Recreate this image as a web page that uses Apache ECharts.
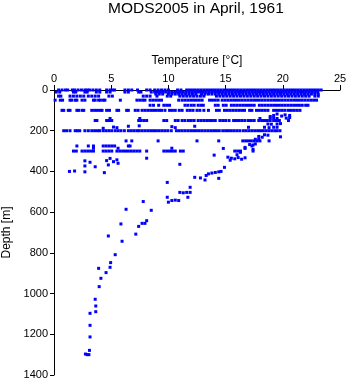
<!DOCTYPE html>
<html>
<head>
<meta charset="utf-8">
<script src="https://cdn.jsdelivr.net/npm/echarts@6/dist/echarts.min.js"></script>
<style>
  html, body { margin: 0; padding: 0; background: #fff; }
  #chart { width: 348px; height: 384px; }
</style>
</head>
<body>
<div id="chart"></div>
<script>
// Temperature profiles, MODS2005 casts for April 1961.
// Standard-depth observations: temperatures (°C) found at each depth (m).
const tempAt0 = [0.4,0.7,1.0,1.2,1.6,1.8,2.1,2.4,2.7,2.9,3.1,3.4,3.7,4.0,4.6,4.9,5.1,5.3,6.2,6.5,6.8,7.3,8.1,8.4,8.8,9.1,9.4,9.7,10.0,10.8,11.1,11.6,11.85,12.1,12.35,12.6,12.85,13.1,13.35,13.6,13.85,14.1,14.35,14.6,14.85,15.1,15.35,15.6,15.85,16.1,16.35,16.6,16.85,17.1,17.35,17.6,17.85,18.1,18.35,18.6,18.85,19.1,19.35,19.6,19.85,20.1,20.35,20.6,20.85,21.1,21.35,21.6,21.85,22.1,22.35,22.6,22.85,23.1,23.35];
const tempAt10 = [0.2,0.5,1.7,1.9,2.7,2.9,3.7,4.0,4.6,4.9,6.2,6.5,7.4,7.6,8.5,8.8,9.05,9.3,9.55,9.8,10.05,10.3,10.55,10.8,11.05,11.3,11.55,11.8,12.05,12.3,12.55,12.8,13.05,13.3,13.55,13.8,14.05,14.3,14.55,14.8,15.05,15.3,15.55,15.8,16.05,16.3,16.55,16.8,17.05,17.3,17.55,17.8,18.05,18.3,18.55,18.8,19.05,19.3,19.55,19.8,20.05,20.3,20.55,20.8,21.05,21.3,21.55,21.8,22.05,22.3,22.55,22.8,23.05];
const tempAt20 = [8.9,9.2,9.5,10.0,10.3,10.6,10.9,11.2,11.5,11.8,12.1,12.4,12.9,13.2,13.5,13.8,14.1,14.4,14.7,15.0,15.3,15.6,15.9,16.2,16.5,16.8,17.1,17.4,17.7,18.0,18.3,18.6,18.9,19.2,19.5,19.8,20.1,20.4,20.7,21.0,21.3,21.6,21.9,22.2,22.5,22.8,23.1];
const tempAt30 = [0.4,0.6,1.4,1.7,2.0,2.3,2.6,3.0,3.3,3.6,3.9,4.8,5.1,7.8,8.1,8.4,9.0,9.9,10.2,11.0,11.3,11.6,11.9,12.2,12.5,12.8,13.1,14.2,14.5,14.8,15.1,15.4,15.7,16.0,16.3,16.6,16.9,17.2,17.5,17.8,18.1,18.4,18.7,19.0,19.3,19.6,19.9,20.2,20.5,20.8,21.1,21.4,21.7,22.0,22.3,22.8,23.1];
const tempAt50 = [0.1,0.55,0.75,1.4,1.55,1.85,2.0,2.45,2.7,3.45,3.6,3.9,4.05,4.3,4.45,5.8,7.25,7.5,7.75,7.95,8.4,8.65,8.9,9.15,9.4,10.9,11.2,11.45,11.7,11.95,12.2,12.45,12.7,12.95,13.6,13.85,14.1,14.35,14.7,14.95,15.2,15.45,15.7,15.95,16.2,16.45,16.7,16.95,17.2,17.45,17.7,17.95,18.2,18.45,18.7,18.95,19.2,19.45,19.7,19.95,20.2,20.45,20.7,20.95,21.2,21.45,21.7,21.95,22.2,22.45,22.7,22.95];
const tempAt75 = [8.4,8.7,9.15,9.6,9.85,10.1,11.45,11.7,12.0,12.25,12.6,12.85,13.05,14.1,14.35,14.8,15.05,15.5,15.75,16.0,16.25,16.5,16.75,17.0,17.25,17.5,17.95,18.2,18.45,18.7,18.95,19.2,19.45,19.7,19.95,20.2,20.45,20.7,20.95,21.2,21.45,21.7,22.0,22.2];
const tempAt100 = [0.7,0.85,1.25,1.4,2.0,2.15,2.45,2.6,3.3,3.55,3.8,4.05,4.2,4.6,4.85,5.5,5.65,6.35,6.5,7.1,7.35,7.7,7.95,8.2,8.45,8.7,8.95,9.2,9.4,9.7,10.1,10.35,10.6,10.95,11.2,11.65,11.9,12.15,12.5,12.75,13.1,13.5,14.2,14.45,14.9,15.15,15.4,15.65,15.9,16.15,16.4,16.65,17.1,17.3,17.7,17.95,18.2,18.45,18.7,19.2,19.45,19.7,19.95,20.2,20.5,20.75,21.0,21.25,21.5];
const tempAt150 = [3.6,3.75,4.6,4.85,5.05,7.4,7.6,7.85,8.1,9.6,9.85,10.6,10.85,11.2,11.45,11.75,12.0,12.25,12.6,12.85,13.1,13.35,13.6,13.85,14.1,14.5,14.75,15.0,15.3,15.7,15.95,16.2,16.45,16.7,17.0,17.25,17.5,17.9,18.15,18.4,18.65,18.9,19.2,19.45,19.7,20.5];
const tempAt200 = [0.85,1.1,1.4,1.85,2.05,2.25,2.7,3.0,3.3,3.55,3.8,4.0,4.3,4.55,4.8,5.05,5.35,5.6,5.85,6.15,6.5,6.75,7.0,7.25,7.45,7.7,7.95,8.2,8.45,8.7,8.95,9.2,9.45,9.7,9.95,10.25,10.7,10.95,11.2,11.45,11.7,11.95,12.2,12.45,12.7,12.95,13.2,13.45,13.7,13.95,14.2,14.45,14.75,15.0,15.25,15.5,15.75,16.0,16.25,16.55,16.8,17.05,17.3,17.55,17.8,18.05,18.3,18.55,18.8,19.05,19.3,19.5,19.75];
const tempAt250 = [6.3,6.8,9.1,12.5,14.4,16.5,16.75,17.0,17.25,17.5,17.75,18.0,18.8];
const tempAt275 = [2.0,3.0,3.45,4.3,4.55,4.8,5.05,5.3,6.5,6.65,17.3];
const tempAt300 = [1.7,1.95,2.45,2.7,2.95,3.2,3.45,4.3,4.55,4.8,5.05,5.5,5.75,6.0,6.25,6.5,6.75,7.0,7.25,7.5,8.1,9.6,9.85,10.1,10.35,10.6,11.05,11.3,15.8,16.05,16.3,17.4];

// Observations off the standard levels: [temperature °C, depth m]
const otherObs = [
  [4.9,140],[7.5,140],[19.5,118],[20.2,122],[20.6,125],[19.9,128],[19.2,125],[18.9,130],
  [20.3,138],[20.6,135],[18.0,140],[18.9,138],[19.2,137],[19.5,140],
  [4.3,188],[5.2,182],[5.5,185],[6.5,178],[7.45,176],[10.3,180],[10.6,185],[12.3,178],
  [18.7,167],[19.0,168],[19.5,167],[19.8,165],[17.0,183],[18.4,183],[18.8,185],[19.2,183],[19.5,183],
  [18.4,220],[18.7,222],[17.9,228],[18.2,232],[19.8,230],[17.6,242],[17.9,242],
  [17.1,268],[17.4,270],[17.6,265],[16.7,282],[17.4,292],[16.3,306],[14.8,287],[16.7,287],
  [3.45,286],[5.6,286],[10.3,286],
  [8.1,335],[4.9,336],[4.6,347],[5.2,352],[5.5,343],[5.6,360],[4.75,368],[2.7,348],[3.15,355],[3.6,377],[2.7,373],
  [1.35,400],[1.8,398],[2.7,402],[4.4,406],
  [11.0,365],[14.0,320],[15.2,330],[15.5,335],[15.8,338],[16.1,332],[16.4,340],[15.4,345],[16.7,333],[16.0,318],
  [14.9,380],[13.5,412],[13.8,408],[14.1,405],[14.4,402],[14.6,400],[13.3,420],[14.4,434],[12.3,429],[12.8,432],[13.2,442],
  [9.9,454],[11.9,478],[11.0,503],[11.3,505],[11.6,503],[11.9,503],[11.7,527],[9.9,527],[10.0,551],[10.3,543],[10.6,541],[10.9,543],
  [7.8,548],[8.5,591],[6.3,586],[8.1,642],[7.7,655],[7.95,655],[7.4,670],[5.85,658],[7.15,708],[4.75,717],[5.95,743],
  [5.35,809],[4.95,848],[4.9,871],[3.9,876],[4.55,897],[4.1,925],[3.95,966],[3.6,1028],[3.65,1061],[3.65,1089],
  [3.15,1097],[3.15,1156],[3.15,1213],[3.1,1279],[2.75,1297],[2.9,1300],[3.05,1300]
];

const levelTemps = [
  [0, tempAt0], [10, tempAt10], [20, tempAt20], [30, tempAt30], [50, tempAt50],
  [75, tempAt75], [100, tempAt100], [150, tempAt150], [200, tempAt200],
  [250, tempAt250], [275, tempAt275], [300, tempAt300]
];

const points = [];
levelTemps.forEach(([depth, temps]) => temps.forEach(t => points.push([t, depth])));
otherObs.forEach(p => points.push(p));

const font = 'Liberation Sans, Arial, Helvetica, sans-serif';
const plain = v => String(v);
const chart = echarts.init(document.getElementById('chart'), null, { renderer: 'canvas' });
chart.setOption({
  backgroundColor: '#fff',
  animation: false,
  title: {
    text: 'MODS2005 in April, 1961',
    left: 108,
    top: 1,
    padding: 0,
    textStyle: { fontFamily: font, fontSize: 15.5, fontWeight: 'normal', color: '#000' }
  },
  grid: { left: 54, top: 90, right: 8, bottom: 9, containLabel: false, outerBoundsMode: 'none' },
  xAxis: {
    type: 'value', position: 'top', min: 0, max: 25, interval: 5,
    name: 'Temperature [°C]', nameLocation: 'middle', nameGap: 23,
    nameTextStyle: { fontFamily: font, fontSize: 12, color: '#000' },
    axisLine: { show: true, onZero: false, lineStyle: { color: '#000', width: 1 } },
    axisTick: { show: true, length: 5, lineStyle: { color: '#000' } },
    axisLabel: { fontFamily: font, fontSize: 11, color: '#000', margin: 6, formatter: plain },
    splitLine: { show: false }
  },
  yAxis: {
    type: 'value', inverse: true, min: 0, max: 1400, interval: 200,
    name: 'Depth [m]', nameLocation: 'middle', nameGap: 40,
    nameTextStyle: { fontFamily: font, fontSize: 12, color: '#000' },
    axisLine: { show: true, onZero: false, lineStyle: { color: '#000', width: 1 } },
    axisTick: { show: true, length: 4, lineStyle: { color: '#000' } },
    axisLabel: { fontFamily: font, fontSize: 11, color: '#000', margin: 6, formatter: plain },
    splitLine: { show: false }
  },
  series: [{
    type: 'scatter',
    data: points,
    symbol: 'rect',
    symbolSize: 3,
    itemStyle: { color: '#0000ff', opacity: 1 },
    clip: false
  }]
});
</script>
</body>
</html>
